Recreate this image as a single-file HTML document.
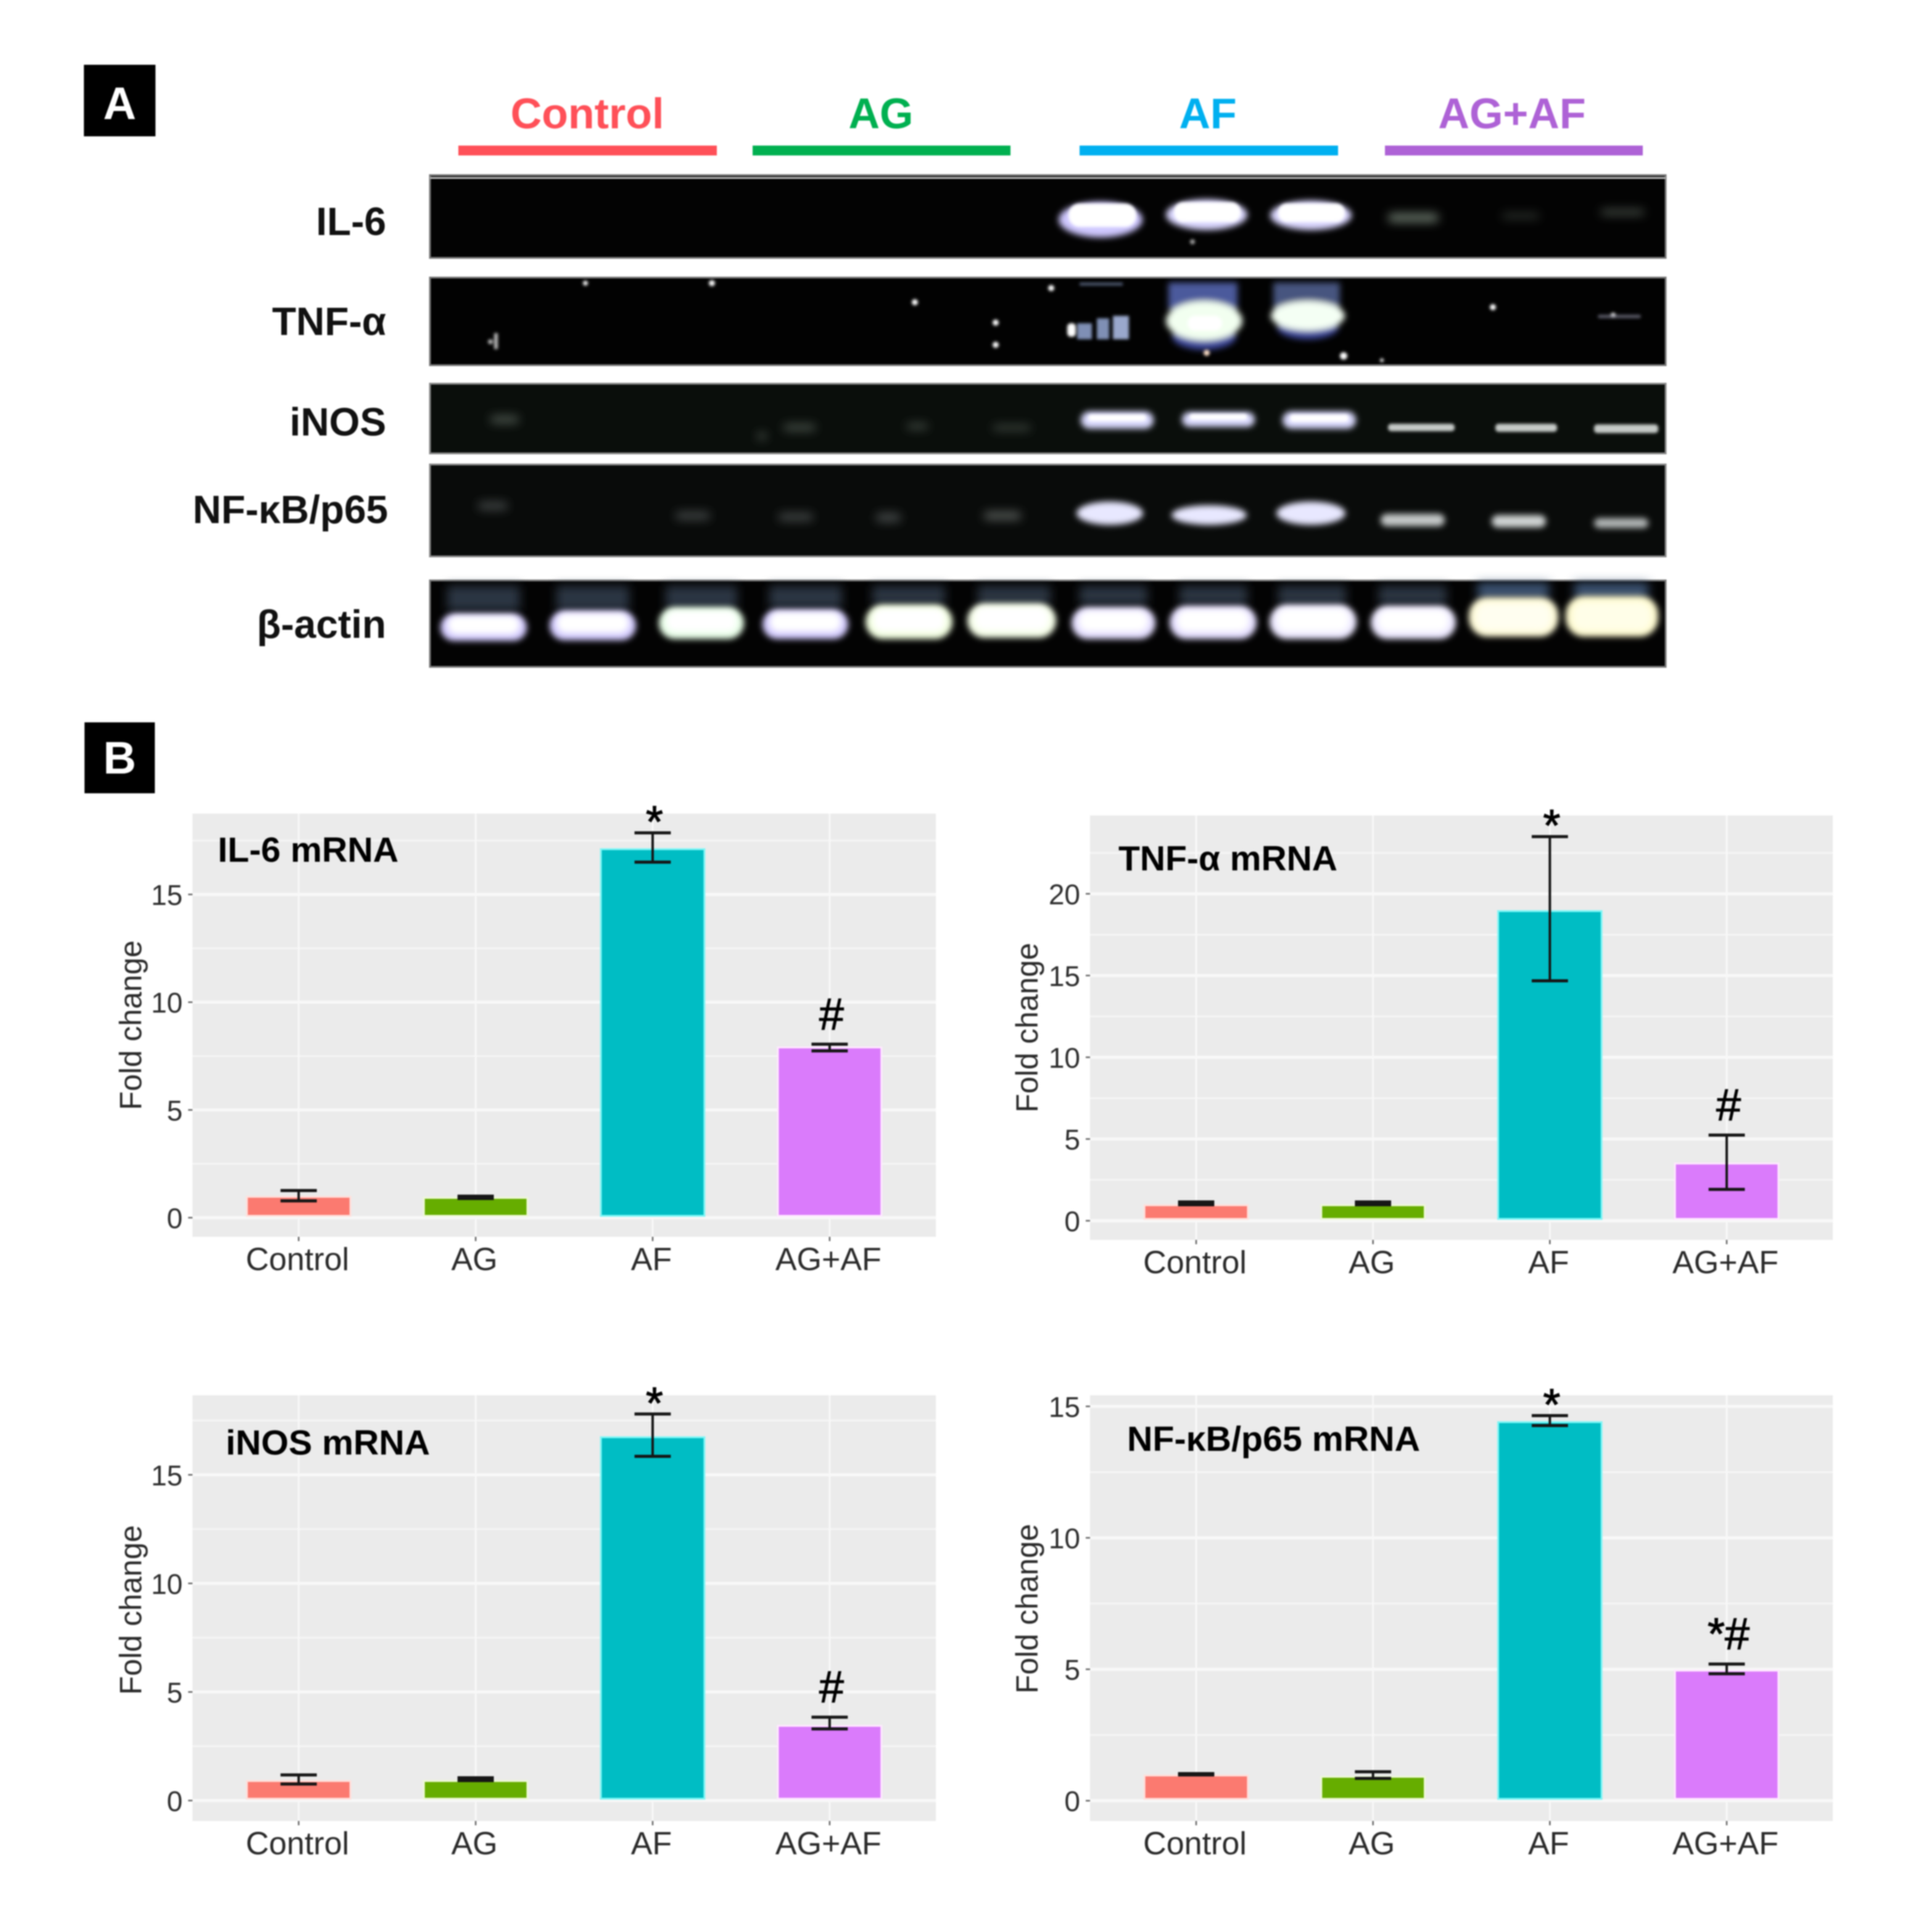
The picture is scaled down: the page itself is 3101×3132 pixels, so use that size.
<!DOCTYPE html>
<html lang="en">
<head>
<meta charset="utf-8">
<title>Western blot and mRNA fold change figure</title>
<style>
  html, body { margin: 0; padding: 0; background: #fff; }
  body { width: 3101px; height: 3132px; overflow: hidden; }
  svg { display: block; font-family: "Liberation Sans", "DejaVu Sans", sans-serif; filter: blur(1px); }
  .group { font-weight: 700; font-size: 70px; text-anchor: middle; }
  .row { font-weight: 700; font-size: 64px; text-anchor: end; fill: #111; }
</style>
</head>
<body>
<svg id="fig" width="3101" height="3132" viewBox="0 0 3101 3132" xmlns="http://www.w3.org/2000/svg">
  <defs>
    <filter id="b2" x="-30%" y="-60%" width="160%" height="220%"><feGaussianBlur stdDeviation="2.5"/></filter>
    <filter id="b4" x="-30%" y="-60%" width="160%" height="220%"><feGaussianBlur stdDeviation="5"/></filter>
    <filter id="b7" x="-30%" y="-80%" width="160%" height="260%"><feGaussianBlur stdDeviation="8"/></filter>
  </defs>
  <rect width="3101" height="3132" fill="#fff"/>

  <g>
    <rect x="136" y="105" width="116" height="116" fill="#000"/>
    <text x="194" y="193" font-size="74" font-weight="700" fill="#fff" text-anchor="middle">A</text>
  </g>

  <g>
    <text class="group" x="952" y="208" fill="#ff5058">Control</text>
    <rect x="743" y="236" width="419" height="16" fill="#ff5058"/>
    <text class="group" x="1428" y="208" fill="#00b050">AG</text>
    <rect x="1220" y="236" width="418" height="16" fill="#00b050"/>
    <text class="group" x="1958" y="208" fill="#00b0f0">AF</text>
    <rect x="1750" y="236" width="419" height="16" fill="#00b0f0"/>
    <text class="group" x="2451" y="208" fill="#ae62d6">AG+AF</text>
    <rect x="2245" y="236" width="418" height="16" fill="#ae62d6"/>
  </g>

  <g>
    <text class="row" x="626" y="381">IL-6</text>
    <text class="row" x="626" y="543">TNF-α</text>
    <text class="row" x="626" y="706">iNOS</text>
    <text class="row" x="629" y="848">NF-κB/p65</text>
    <text class="row" x="626" y="1034">β-actin</text>
  </g>

  <!-- IL-6 gel -->
  <g>
    <rect x="697" y="284" width="2003" height="134" fill="#030303" stroke="#777" stroke-width="3"/>
    <rect x="697" y="287" width="2003" height="3" fill="#bbb"/>
    <g filter="url(#b4)">
      <ellipse cx="1784" cy="356" rx="68" ry="29" fill="#cfc8ff"/>
      <ellipse cx="1956" cy="348" rx="66" ry="25" fill="#dcd8ff"/>
      <ellipse cx="2125" cy="349" rx="66" ry="24" fill="#dcd8ff"/>
    </g>
    <g filter="url(#b2)" fill="#fff">
      <rect x="1732" y="330" width="110" height="38" rx="18"/>
      <rect x="1903" y="328" width="108" height="32" rx="15"/>
      <rect x="2072" y="330" width="108" height="30" rx="14"/>
      <circle cx="1933" cy="392" r="4" fill="#aaa"/>
    </g>
    <g filter="url(#b7)" fill="#7b8a7d">
      <rect x="2250" y="346" width="82" height="14" rx="7" opacity=".85"/>
      <rect x="2435" y="346" width="60" height="8" rx="4" opacity=".4"/>
      <rect x="2595" y="340" width="70" height="8" rx="4" opacity=".65"/>
    </g>
  </g>

  <!-- TNF gel -->
  <g>
    <rect x="697" y="450" width="2003" height="142" fill="#020202" stroke="#777" stroke-width="3"/>
    <g filter="url(#b2)" fill="#7f8fb5">
      <rect x="1746" y="524" width="24" height="26"/><rect x="1778" y="516" width="20" height="34"/><rect x="1804" y="512" width="26" height="38" fill="#9aa8cc"/>
      <rect x="1750" y="458" width="70" height="5" opacity=".6"/>
    </g>
    <g filter="url(#b4)">
      <rect x="1894" y="458" width="112" height="44" fill="#4c5a9c"/>
      <rect x="2064" y="458" width="108" height="44" fill="#46547f"/>
      <ellipse cx="1952" cy="545" rx="52" ry="22" fill="#404ca0"/>
      <ellipse cx="2120" cy="530" rx="50" ry="20" fill="#404ca0"/>
      <ellipse cx="1952" cy="520" rx="62" ry="32" fill="#f2fff0"/>
      <ellipse cx="2120" cy="512" rx="60" ry="24" fill="#f4fff4"/>
    </g>
    <g filter="url(#b2)" fill="#fff">
      <rect x="1730" y="524" width="14" height="22" rx="6"/>
      <rect x="1925" y="512" width="56" height="24" rx="12"/>
      <circle cx="949" cy="459" r="4"/><circle cx="1154" cy="459" r="5"/><circle cx="1483" cy="490" r="5"/>
      <rect x="801" y="540" width="6" height="26" fill="#bbb"/><circle cx="795" cy="554" r="4" fill="#bbb"/>
      <circle cx="1704" cy="467" r="5"/><circle cx="1614" cy="523" r="5"/><circle cx="1614" cy="559" r="5"/>
      <circle cx="1956" cy="572" r="5" fill="#ffe0c8"/><circle cx="2178" cy="577" r="6"/><circle cx="2240" cy="584" r="3"/>
      <circle cx="2420" cy="498" r="5"/><circle cx="2615" cy="511" r="4"/>
      <rect x="2590" y="510" width="70" height="6" rx="3" fill="#778" opacity=".7"/>
    </g>
  </g>

  <!-- iNOS gel -->
  <g>
    <rect x="697" y="622" width="2003" height="113" fill="#0a0e0b" stroke="#888" stroke-width="3"/>
    <g filter="url(#b4)" fill="#dcdcff">
      <rect x="1752" y="667" width="118" height="28" rx="14"/>
      <rect x="1916" y="668" width="118" height="24" rx="12"/>
      <rect x="2079" y="667" width="119" height="28" rx="14"/>
    </g>
    <g filter="url(#b2)" fill="#fff">
      <rect x="1764" y="672" width="94" height="11" rx="5"/>
      <rect x="1928" y="671" width="94" height="10" rx="5"/>
      <rect x="2091" y="672" width="95" height="12" rx="5"/>
      <rect x="2250" y="687" width="108" height="12" rx="5" fill="#c6cac8"/>
      <rect x="2424" y="687" width="100" height="13" rx="5" fill="#c6cac8"/>
      <rect x="2584" y="688" width="104" height="14" rx="5" fill="#c6cac8"/>
    </g>
    <g filter="url(#b7)" fill="#4c544e">
      <rect x="795" y="674" width="46" height="12" rx="6"/>
      <rect x="1270" y="688" width="52" height="10" rx="5"/>
      <rect x="1470" y="687" width="34" height="8" rx="4"/>
      <rect x="1610" y="690" width="60" height="7" rx="3"/>
      <rect x="1228" y="702" width="14" height="10" rx="3"/>
    </g>
  </g>

  <!-- NF-kB gel -->
  <g>
    <rect x="697" y="753" width="2003" height="149" fill="#090b0a" stroke="#888" stroke-width="3"/>
    <g filter="url(#b4)" fill="#e8e8ff">
      <ellipse cx="1799" cy="832" rx="54" ry="19"/>
      <ellipse cx="1960" cy="835" rx="61" ry="16"/>
      <ellipse cx="2125" cy="832" rx="56" ry="19"/>
      <rect x="2238" y="833" width="104" height="20" rx="10" fill="#c4c8c8"/>
      <rect x="2418" y="835" width="88" height="20" rx="10" fill="#d0d4d4"/>
      <rect x="2584" y="840" width="88" height="16" rx="8" fill="#b4b8b8"/>
    </g>
    <g filter="url(#b7)" fill="#454a48">
      <rect x="775" y="814" width="48" height="12" rx="6"/>
      <rect x="1095" y="830" width="56" height="12" rx="6"/>
      <rect x="1262" y="832" width="56" height="12" rx="6"/>
      <rect x="1420" y="832" width="40" height="14" rx="6"/>
      <rect x="1595" y="830" width="60" height="12" rx="6" fill="#5b605d"/>
    </g>
  </g>

  <!-- beta-actin gel -->
  <g>
    <rect x="697" y="941" width="2003" height="140" fill="#030303" stroke="#777" stroke-width="3"/>
    <g filter="url(#b7)" fill="#2a3642">
      <rect x="725" y="950" width="118" height="40"/><rect x="902" y="950" width="118" height="40"/>
      <rect x="1079" y="950" width="116" height="36"/><rect x="1247" y="950" width="118" height="36"/>
      <rect x="1414" y="950" width="118" height="30"/><rect x="1585" y="950" width="118" height="30"/>
      <rect x="1750" y="950" width="110" height="30"/><rect x="1912" y="950" width="110" height="30"/>
      <rect x="2072" y="950" width="110" height="30"/><rect x="2235" y="950" width="110" height="30"/>
      <rect x="2395" y="945" width="116" height="25" fill="#3d5474"/><rect x="2552" y="945" width="120" height="25" fill="#3d5474"/>
    </g>
    <g filter="url(#b4)" fill="#d4ccff">
      <rect x="714" y="995" width="140" height="44" rx="22"/>
      <rect x="891" y="990" width="140" height="48" rx="24"/>
      <rect x="1068" y="984" width="138" height="52" rx="26" fill="#e8ffe8"/>
      <rect x="1236" y="988" width="139" height="48" rx="24"/>
      <rect x="1403" y="980" width="141" height="56" rx="28" fill="#f2ffe0"/>
      <rect x="1568" y="978" width="144" height="56" rx="28" fill="#f6ffe8"/>
      <rect x="1737" y="984" width="136" height="52" rx="26" fill="#e4deff"/>
      <rect x="1896" y="982" width="141" height="54" rx="27" fill="#e4deff"/>
      <rect x="2058" y="980" width="141" height="56" rx="28" fill="#ece8ff"/>
      <rect x="2222" y="982" width="138" height="54" rx="27" fill="#ece8ff"/>
      <rect x="2381" y="968" width="145" height="64" rx="30" fill="#fffbd8"/>
      <rect x="2538" y="966" width="150" height="66" rx="30" fill="#fffbd0"/>
    </g>
    <g filter="url(#b4)" fill="#fff">
      <rect x="726" y="998" width="116" height="30" rx="14"/><rect x="903" y="994" width="116" height="32" rx="14"/>
      <rect x="1080" y="990" width="114" height="34" rx="14"/><rect x="1248" y="992" width="115" height="32" rx="14"/>
      <rect x="1415" y="986" width="117" height="38" rx="16"/><rect x="1580" y="984" width="120" height="38" rx="16"/>
      <rect x="1749" y="990" width="112" height="34" rx="16"/><rect x="1908" y="988" width="117" height="36" rx="16"/>
      <rect x="2070" y="986" width="117" height="38" rx="16"/><rect x="2234" y="988" width="114" height="36" rx="16"/>
      <rect x="2393" y="978" width="121" height="44" rx="18" fill="#fffef0"/><rect x="2550" y="976" width="126" height="46" rx="18" fill="#fffee8"/>
    </g>
  </g>

  <g>
    <rect x="137" y="1171" width="114" height="115" fill="#000"/>
    <text x="194" y="1254" font-size="74" font-weight="700" fill="#fff" text-anchor="middle">B</text>
  </g>

  <g id="charts"></g>
</svg>

<script>
// Shared categories and bar colours
const categories = ["Control", "AG", "AF", "AG+AF"];
const barColors = ["#fb7a70", "#66ad00", "#00bdc4", "#da7bfb"];
const haloColors = ["#ffe0dc", "#eef8d8", "#7ff6f6", "#ffe8ff"];

// IL-6 mRNA
const il6Values = [0.97, 0.92, 17.1, 7.9];
const il6Upper = [1.26, 1.0, 17.86, 8.05];
const il6Lower = [0.78, 0.89, 16.5, 7.74];
const il6Ticks = [0, 5, 10, 15];
const il6Marks = ["", "", "*", "#"];

// TNF-alpha mRNA
const tnfValues = [0.95, 0.95, 18.94, 3.5];
const tnfUpper = [1.15, 1.15, 23.5, 5.24];
const tnfLower = [0.98, 0.98, 14.68, 1.92];
const tnfTicks = [0, 5, 10, 15, 20];
const tnfMarks = ["", "", "*", "#"];

// iNOS mRNA
const inosValues = [0.9, 0.9, 16.73, 3.44];
const inosUpper = [1.18, 1.05, 17.8, 3.84];
const inosLower = [0.76, 0.92, 15.85, 3.3];
const inosTicks = [0, 5, 10, 15];
const inosMarks = ["", "", "*", "#"];

// NF-kB/p65 mRNA
const nfkbValues = [0.96, 0.91, 14.4, 4.95];
const nfkbUpper = [1.03, 1.1, 14.65, 5.2];
const nfkbLower = [0.98, 0.85, 14.27, 4.83];
const nfkbTicks = [0, 5, 10, 15];
const nfkbMarks = ["", "", "*", "*#"];

const NS = "http://www.w3.org/2000/svg";
const root = document.getElementById("charts");

function make(parent, tag, attrs, text) {
  const el = document.createElementNS(NS, tag);
  for (const k in attrs) el.setAttribute(k, attrs[k]);
  if (text !== undefined) el.textContent = text;
  parent.appendChild(el);
  return el;
}

function drawChart(cfg) {
  const plotW = cfg.right - cfg.left;
  const plotH = cfg.bottom - cfg.top;
  const y = v => cfg.bottom - (v - cfg.yMin) / (cfg.yMax - cfg.yMin) * plotH;
  const step = plotW / (categories.length + 0.2);
  const x = i => cfg.left + (0.6 + i) * step;
  const barW = step * 0.585;
  const capW = step * 0.205;

  const g = make(root, "g", {});
  
  

  const panel = make(g, "rect", { x: cfg.left, y: cfg.top, width: plotW, height: plotH, fill: "#ebebeb" });
  
  

  // minor gridlines halfway between the major ticks
  const gap = cfg.ticks[1] - cfg.ticks[0];
  for (let m = cfg.ticks[0] + gap / 2; m < cfg.yMax; m += gap) {
    const line = make(g, "line", { x1: cfg.left, x2: cfg.right, y1: y(m), y2: y(m), stroke: "#f5f5f5", "stroke-width": 3 });
    
    
  }
  // major gridlines, ticks and labels
  cfg.ticks.forEach(t => {
    const line = make(g, "line", { x1: cfg.left, x2: cfg.right, y1: y(t), y2: y(t), stroke: "#f8f8f8", "stroke-width": 5 });
    
    
    const tick = make(g, "line", { x1: cfg.left - 7, x2: cfg.left, y1: y(t), y2: y(t), stroke: "#666", "stroke-width": 2.5 });
    
    
    const lab = make(g, "text", { x: cfg.left - 16, y: y(t) + 17, "font-size": 46, "text-anchor": "end", fill: "#2e2e2e" }, String(t));
    
    
  });
  // vertical gridlines, x ticks and labels
  categories.forEach((c, i) => {
    const line = make(g, "line", { x1: x(i), x2: x(i), y1: cfg.top, y2: cfg.bottom, stroke: "#f8f8f8", "stroke-width": 3 });
    
    
    const tick = make(g, "line", { x1: x(i), x2: x(i), y1: cfg.bottom, y2: cfg.bottom + 7, stroke: "#666", "stroke-width": 2.5 });
    
    
    const lab = make(g, "text", { x: x(i) - 2, y: cfg.bottom + 54, "font-size": 52, "text-anchor": "middle", fill: "#2a2a2a" }, c);
    
    
  });
  // bars
  categories.forEach((c, i) => {
    const top = y(cfg.values[i]);
    const bar = make(g, "rect", { x: x(i) - barW / 2, y: top, width: barW, height: y(0) - 3 - top, fill: barColors[i], stroke: haloColors[i], "stroke-width": 3 });
    
    
  });
  // error bars
  categories.forEach((c, i) => {
    const eb = make(g, "g", { stroke: "#161616", "stroke-width": 4 });
    
    
    make(eb, "line", { x1: x(i), x2: x(i), y1: y(cfg.upper[i]), y2: y(cfg.lower[i]) });
    make(eb, "line", { x1: x(i) - capW / 2, x2: x(i) + capW / 2, y1: y(cfg.upper[i]), y2: y(cfg.upper[i]), "stroke-width": 5 });
    make(eb, "line", { x1: x(i) - capW / 2, x2: x(i) + capW / 2, y1: y(cfg.lower[i]), y2: y(cfg.lower[i]), "stroke-width": 5 });
  });
  // significance marks sit just above the upper whisker
  categories.forEach((c, i) => {
    const mark = cfg.marks[i];
    if (!mark) return;
    const offset = mark === "*" ? 7 : -24;
    const t = make(g, "text", { x: x(i) + 3, y: y(cfg.upper[i]) + offset, "font-size": 72, "text-anchor": "middle", fill: "#000", stroke: "#000", "stroke-width": 1.2 }, mark);
    
    
  });
  // y axis title
  const yt = make(g, "text", { x: 0, y: 0, "font-size": 50, "text-anchor": "middle", fill: "#2a2a2a",
    transform: "translate(" + (cfg.left - cfg.titleGap) + " " + (cfg.titleMid) + ") rotate(-90)" }, "Fold change");
  
  
  // in-panel title
  const title = make(g, "text", { x: cfg.titleX, y: cfg.titleY, "font-size": 57, "font-weight": 700, fill: "#000", textLength: cfg.titleLen, lengthAdjust: "spacingAndGlyphs" }, cfg.title);
  
  
}

drawChart({ key: "il6", title: "IL-6 mRNA", values: il6Values, upper: il6Upper, lower: il6Lower, ticks: il6Ticks, marks: il6Marks,
  left: 312, right: 1517, top: 1319, bottom: 2005, yMin: -0.887, yMax: 18.75,
  titleX: 353, titleY: 1397, titleLen: 293, titleGap: 83, titleMid: 1662 });
drawChart({ key: "tnf", title: "TNF-α mRNA", values: tnfValues, upper: tnfUpper, lower: tnfLower, ticks: tnfTicks, marks: tnfMarks,
  left: 1767, right: 2971, top: 1322, bottom: 2010, yMin: -1.17, yMax: 24.79,
  titleX: 1813, titleY: 1411, titleLen: 355, titleGap: 85, titleMid: 1666 });
drawChart({ key: "inos", title: "iNOS mRNA", values: inosValues, upper: inosUpper, lower: inosLower, ticks: inosTicks, marks: inosMarks,
  left: 312, right: 1517, top: 2262, bottom: 2952, yMin: -0.94, yMax: 18.66,
  titleX: 366, titleY: 2358, titleLen: 331, titleGap: 83, titleMid: 2610 });
drawChart({ key: "nfkb", title: "NF-κB/p65 mRNA", values: nfkbValues, upper: nfkbUpper, lower: nfkbLower, ticks: nfkbTicks, marks: nfkbMarks,
  left: 1767, right: 2971, top: 2262, bottom: 2952, yMin: -0.77, yMax: 15.42,
  titleX: 1827, titleY: 2352, titleLen: 475, titleGap: 85, titleMid: 2608 });
</script>
</body>
</html>
